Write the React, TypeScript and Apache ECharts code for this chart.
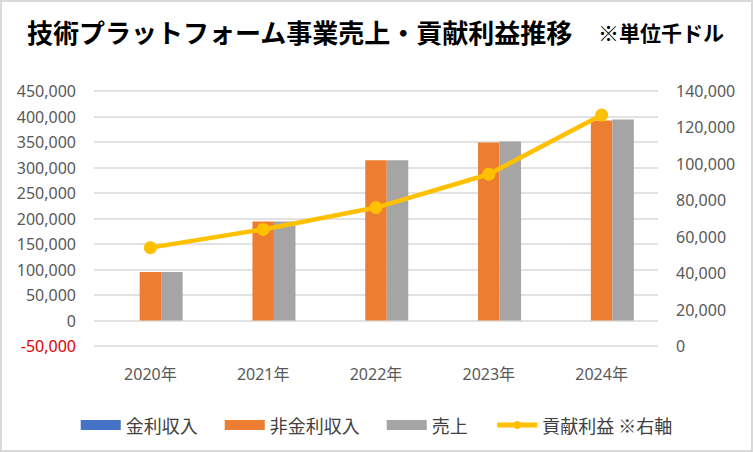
import React, { useEffect, useRef } from "react";
import * as echarts from "echarts";

const categories = ["2020年", "2021年", "2022年", "2023年", "2024年"];
const interestIncome = [0, 0, 0, 0, 0];
const nonInterestIncome = [95000, 194000, 314000, 349000, 392000];
const sales = [95000, 194000, 314000, 351000, 394000];
const contributionProfit = [54000, 64000, 76000, 94300, 126800];

const leftMin = -50000;
const leftMax = 450000;
const leftInterval = 50000;
const rightMin = 0;
const rightMax = 140000;
const rightInterval = 20000;

const NUM_FONT = '"Noto Sans", "Noto Sans CJK JP", sans-serif';
const CJK_FONT = '"Noto Sans CJK JP", "Noto Sans", sans-serif';

export default function App() {
  const ref = useRef<HTMLDivElement>(null);
  useEffect(() => {
    document.body.style.margin = "0";
    if (!ref.current) return;
    const chart = echarts.init(ref.current, undefined, { renderer: "svg" });
    const fmt = (v: number) => v.toLocaleString("en-US");
    chart.setOption({
      animation: false,
      backgroundColor: "#ffffff",
      title: [
        {
          text: "技術プラットフォーム事業売上・貢献利益推移",
          left: 25,
          top: 16,
          padding: 0,
          textStyle: { fontSize: 26, fontWeight: "bold", color: "#000000", fontFamily: CJK_FONT },
        },
        {
          text: "※単位千ドル",
          left: 596,
          top: 19,
          padding: 0,
          textStyle: { fontSize: 21, fontWeight: "bold", color: "#000000", fontFamily: CJK_FONT },
        },
      ],
      legend: {
        bottom: 11,
        left: "center",
        itemWidth: 40,
        itemHeight: 10,
        itemGap: 27,
        textStyle: { fontSize: 18, color: "#404040", fontFamily: CJK_FONT },
        data: [
          { name: "金利収入", icon: "rect" },
          { name: "非金利収入", icon: "rect" },
          { name: "売上", icon: "rect" },
          { name: "貢献利益 ※右軸", lineStyle: { width: 5 } },
        ],
      },
      grid: { left: 92, right: 93, top: 89, bottom: 104, containLabel: false },
      xAxis: {
        type: "category",
        data: categories,
        axisLine: { show: false },
        axisTick: { show: false },
        axisLabel: { margin: 20, fontSize: 16, color: "#595959", fontFamily: NUM_FONT },
      },
      yAxis: [
        {
          type: "value",
          min: leftMin,
          max: leftMax,
          interval: leftInterval,
          axisLine: { show: false },
          axisTick: { show: false },
          splitLine: { lineStyle: { color: "#d9d9d9", width: 1.5 } },
          axisLabel: {
            margin: 18,
            fontSize: 16,
            fontFamily: NUM_FONT,
            formatter: (v: number) => fmt(v),
            color: (v: any) => (Number(v) < 0 ? "#e00000" : "#595959"),
          },
        },
        {
          type: "value",
          position: "right",
          min: rightMin,
          max: rightMax,
          interval: rightInterval,
          axisLine: { show: false },
          axisTick: { show: false },
          splitLine: { show: false },
          axisLabel: {
            margin: 18,
            fontSize: 16,
            fontFamily: NUM_FONT,
            color: "#595959",
            formatter: (v: number) => fmt(v),
          },
        },
      ],
      series: [
        {
          name: "金利収入",
          type: "bar",
          data: interestIncome,
          barWidth: 21.5,
          barGap: "0%",
          itemStyle: { color: "#4472C4" },
        },
        {
          name: "非金利収入",
          type: "bar",
          data: nonInterestIncome,
          barWidth: 21.5,
          barGap: "0%",
          itemStyle: { color: "#ED7D31" },
        },
        {
          name: "売上",
          type: "bar",
          data: sales,
          barWidth: 21.5,
          barGap: "0%",
          itemStyle: { color: "#A5A5A5" },
        },
        {
          name: "貢献利益 ※右軸",
          type: "line",
          yAxisIndex: 1,
          data: contributionProfit,
          symbol: "circle",
          symbolSize: 13,
          z: 5,
          lineStyle: { color: "#FFC000", width: 4.5 },
          itemStyle: { color: "#FFC000" },
        },
      ],
    });
    return () => chart.dispose();
  }, []);
  return (
    <div
      style={{
        width: 753,
        height: 452,
        boxSizing: "border-box",
        border: "2px solid #d9d9d9",
        background: "#fff",
      }}
    >
      <div ref={ref} style={{ width: 749, height: 448 }} />
    </div>
  );
}
